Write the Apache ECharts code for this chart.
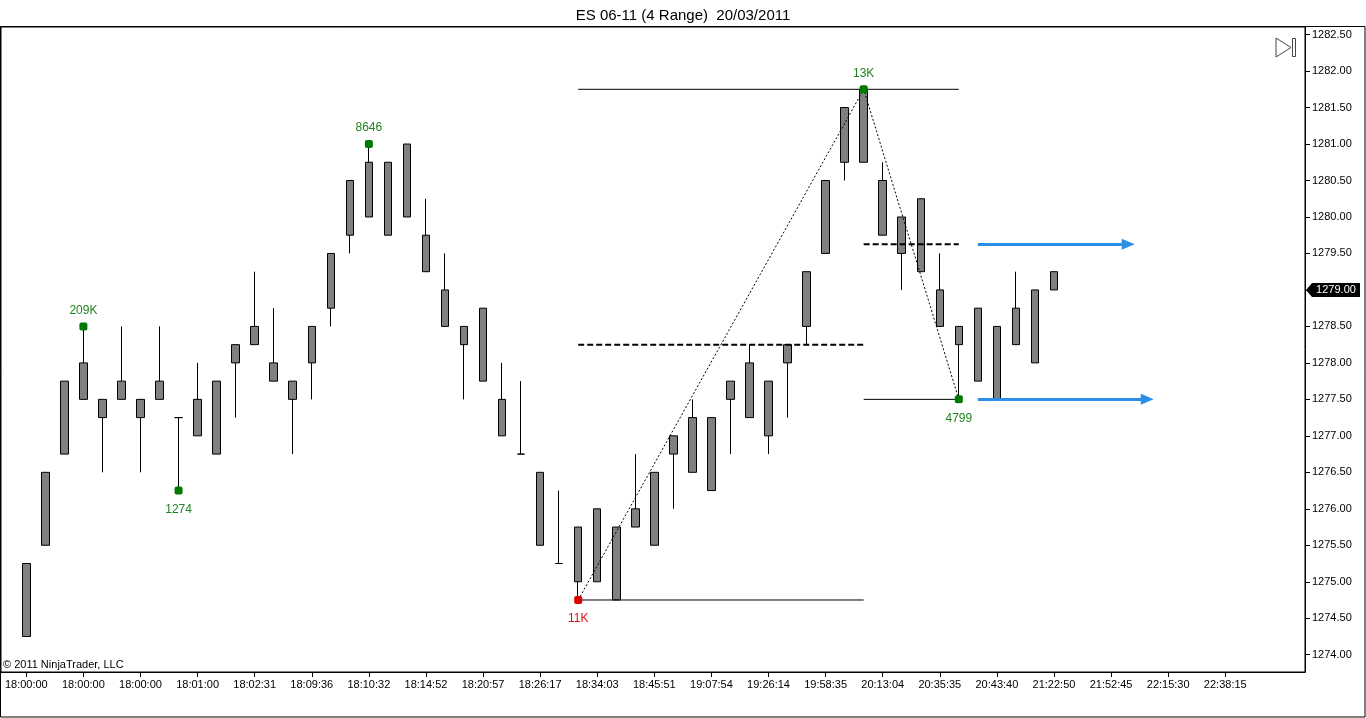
<!DOCTYPE html>
<html>
<head>
<meta charset="utf-8">
<style>
  html, body { margin: 0; padding: 0; background: #fff; }
  #chart { width: 1366px; height: 718px; }
</style>
</head>
<body>
<div id="chart"></div>
<script src="https://cdn.jsdelivr.net/npm/echarts@6/dist/echarts.min.js"></script>
<script>
  // Range bars (4 ticks).
  const opens = [
    1274.25, 1275.5, 1276.75, 1277.5, 1277.5, 1277.5, 1277.5, 1277.5, 1277.25, 1277.0,
    1276.75, 1278.0, 1278.25, 1278.0, 1277.75, 1278.0, 1278.75, 1279.75, 1280.0, 1280.75,
    1280.0, 1279.75, 1279.0, 1278.5, 1278.75, 1277.5, 1276.75, 1276.5, 1275.25, 1275.0,
    1275.0, 1275.75, 1275.75, 1275.5, 1276.75, 1276.5, 1277.25, 1277.5, 1277.25, 1277.75,
    1278.0, 1278.5, 1279.5, 1280.75, 1281.75, 1280.5, 1280.0, 1279.25, 1279.0, 1278.25,
    1278.75, 1277.5, 1278.25, 1278.0, 1279.25
  ];
  const closes = [
    1275.25, 1276.5, 1277.75, 1278.0, 1277.25, 1277.75, 1277.25, 1277.75, 1277.25, 1277.5,
    1277.75, 1278.25, 1278.5, 1277.75, 1277.5, 1278.5, 1279.5, 1280.5, 1280.75, 1279.75,
    1281.0, 1279.25, 1278.5, 1278.25, 1277.75, 1277.0, 1276.75, 1275.5, 1275.25, 1275.75,
    1276.0, 1274.75, 1276.0, 1276.5, 1277.0, 1277.25, 1276.25, 1277.75, 1278.0, 1277.0,
    1278.25, 1279.25, 1280.5, 1281.5, 1280.75, 1279.75, 1279.5, 1280.25, 1278.5, 1278.5,
    1277.75, 1278.5, 1278.75, 1279.0, 1279.0
  ];
  const lows = [
    1274.25, 1275.5, 1276.75, 1277.5, 1276.5, 1277.5, 1276.5, 1277.5, 1276.25, 1277.0,
    1276.75, 1277.25, 1278.25, 1277.75, 1276.75, 1277.5, 1278.5, 1279.5, 1280.0, 1279.75,
    1280.0, 1279.25, 1278.5, 1277.5, 1277.75, 1277.0, 1276.75, 1275.5, 1275.25, 1274.75,
    1275.0, 1274.75, 1275.75, 1275.5, 1276.0, 1276.5, 1276.25, 1276.75, 1277.25, 1276.75,
    1277.25, 1278.25, 1279.5, 1280.5, 1280.75, 1279.75, 1279.0, 1279.25, 1278.5, 1277.5,
    1277.75, 1277.5, 1278.25, 1278.0, 1279.0
  ];
  const highs = [
    1275.25, 1276.5, 1277.75, 1278.5, 1277.5, 1278.5, 1277.5, 1278.5, 1277.25, 1278.0,
    1277.75, 1278.25, 1279.25, 1278.75, 1277.75, 1278.5, 1279.5, 1280.5, 1281.0, 1280.75,
    1281.0, 1280.25, 1279.5, 1278.5, 1278.75, 1278.0, 1277.75, 1276.5, 1276.25, 1275.75,
    1276.0, 1275.75, 1276.75, 1276.5, 1277.0, 1277.5, 1277.25, 1277.75, 1278.25, 1277.75,
    1278.25, 1279.25, 1280.5, 1281.5, 1281.75, 1280.75, 1280.0, 1280.25, 1279.5, 1278.5,
    1278.75, 1278.5, 1279.25, 1279.0, 1279.25
  ];

  // Time labels, one every third bar (bar 0, 3, 6, ...).
  const timeLabels = [
    '18:00:00', '18:00:00', '18:00:00', '18:01:00', '18:02:31', '18:09:36', '18:10:32',
    '18:14:52', '18:20:57', '18:26:17', '18:34:03', '18:45:51', '19:07:54', '19:26:14',
    '19:58:35', '20:13:04', '20:35:35', '20:43:40', '21:22:50', '21:52:45', '22:15:30', '22:38:15'
  ];
  const labelStep = 3;
  const yTicks = [1274, 1274.5, 1275, 1275.5, 1276, 1276.5, 1277, 1277.5, 1278, 1278.5,
                  1279, 1279.5, 1280, 1280.5, 1281, 1281.5, 1282, 1282.5];

  // Swing points with their volume text.
  const swingIdx = [3, 8, 18, 29, 44, 49];
  const swingPrice = [1278.5, 1276.25, 1281.0, 1274.75, 1281.75, 1277.5];
  const swingText = ['209K', '1274', '8646', '11K', '13K', '4799'];
  const swingSide = ['top', 'bottom', 'top', 'bottom', 'top', 'bottom'];
  const swingColor = ['#007a00', '#007a00', '#007a00', '#e00000', '#007a00', '#007a00'];
  const swingTextColor = ['#1e861e', '#1e861e', '#1e861e', '#e01010', '#1e861e', '#1e861e'];

  // Drawn leg: low (bar 29) -> high (bar 44) -> low (bar 49)
  const legIdx = [29, 44, 49];
  const legPrice = [1274.75, 1281.75, 1277.5];
  const midUp = 1278.25;     // half of the up leg
  const midDown = 1279.625;  // half of the down leg
  const arrowStart = 50;
  const arrowEnds = [57.9, 58.9];
  const lastPrice = 1279.0;

  const xMin = -1.33, xMax = 67.19;
  const yMin = 1273.763, yMax = 1282.604;
  const font = 'Liberation Sans, Arial, sans-serif';

  const candles = opens.map((o, i) => [i, o, closes[i], lows[i], highs[i]]);
  const swings = swingIdx.map((x, i) => ({
    value: [x, swingPrice[i]],
    itemStyle: { color: swingColor[i], opacity: 1 },
    label: {
      show: true, formatter: swingText[i], position: swingSide[i],
      distance: swingSide[i] === 'top' ? 6 : 9, color: swingTextColor[i]
    }
  }));

  function hLine(x0, x1, y, style) {
    return {
      type: 'line', data: [[x0, y], [x1, y]], showSymbol: false, symbol: 'none',
      lineStyle: style, silent: true, z: 3
    };
  }
  const solid = { color: '#000', width: 1, type: 'solid' };
  const dashed = { color: '#000', width: 2, type: [6, 3] };
  const blue = '#2b8fe8';

  const option = {
    animation: false,
    backgroundColor: '#fff',
    title: {
      text: 'ES 06-11 (4 Range)  20/03/2011',
      left: 'center', top: 3,
      textStyle: { fontFamily: font, fontSize: 15, fontWeight: 'normal', color: '#000' }
    },
    grid: {
      left: 1, top: 27, width: 1304, height: 645,
      show: true, borderColor: '#000', borderWidth: 1,
      containLabel: false, outerBoundsMode: 'none'
    },
    xAxis: {
      type: 'value', min: xMin, max: xMax,
      splitLine: { show: false },
      axisLine: { onZero: false, lineStyle: { color: '#000' } },
      axisTick: {
        customValues: timeLabels.map((_, i) => i * labelStep),
        length: 5, lineStyle: { color: '#000' }
      },
      axisLabel: {
        customValues: timeLabels.map((_, i) => i * labelStep),
        formatter: v => timeLabels[Math.round(v / labelStep)],
        fontFamily: font, fontSize: 11, color: '#000', margin: 7
      }
    },
    yAxis: {
      type: 'value', position: 'right', min: yMin, max: yMax, scale: true,
      splitLine: { show: false },
      axisLine: { show: true, onZero: false, lineStyle: { color: '#000' } },
      axisTick: { show: true, customValues: yTicks, length: 5, lineStyle: { color: '#000' } },
      axisLabel: {
        customValues: yTicks,
        formatter: v => v.toFixed(2),
        fontFamily: font, fontSize: 11, color: '#000', margin: 7
      }
    },
    series: [
      {
        type: 'candlestick', data: candles, barWidth: 8, z: 2,
        itemStyle: {
          color: '#808080', color0: '#808080',
          borderColor: '#000', borderColor0: '#000', borderWidth: 1
        },
        markLine: {
          silent: true, symbol: ['none', 'triangle'], symbolSize: [11, 13],
          label: { show: false },
          lineStyle: { color: blue, width: 3, type: 'solid' },
          data: [
            [{ coord: [arrowStart, midDown] }, { coord: [arrowEnds[0], midDown] }],
            [{ coord: [arrowStart, legPrice[2]] }, { coord: [arrowEnds[1], legPrice[2]] }]
          ]
        }
      },
      hLine(legIdx[0], legIdx[2], legPrice[1], solid),
      hLine(legIdx[0], legIdx[1], legPrice[0], solid),
      hLine(legIdx[1], legIdx[2], legPrice[2], solid),
      hLine(legIdx[0], legIdx[1], midUp, dashed),
      hLine(legIdx[1], legIdx[2], midDown, dashed),
      {
        type: 'line', data: legIdx.map((x, i) => [x, legPrice[i]]),
        showSymbol: false, symbol: 'none', silent: true, z: 3,
        lineStyle: { color: '#000', width: 1, type: [2, 2] }
      },
      {
        type: 'scatter', data: swings, symbol: 'roundRect', symbolSize: 8, z: 5,
        itemStyle: { opacity: 1 },
        label: { fontFamily: font, fontSize: 12 }
      },
      {
        type: 'scatter', clip: false, z: 6, silent: true,
        data: [[xMax, lastPrice]],
        symbol: 'path://M0,7 L6,0 L54,0 L54,14 L6,14 Z',
        symbolSize: [54, 14], symbolKeepAspect: false, symbolOffset: [28, 0],
        itemStyle: { color: '#000', opacity: 1 },
        label: {
          show: true, position: 'inside', formatter: lastPrice.toFixed(2),
          color: '#fff', fontFamily: font, fontSize: 11, offset: [3, 0]
        }
      }
    ],
    graphic: [
      {
        type: 'rect', silent: true,
        shape: { x: 0.5, y: 26.5, width: 1364.5, height: 690.5 },
        style: { fill: 'none', stroke: '#000', lineWidth: 1 }
      },
      {
        type: 'text', left: 3, top: 659, silent: true,
        style: { text: '\u00a9 2011 NinjaTrader, LLC', fill: '#000', font: '11px ' + font }
      },
      {
        type: 'polygon', silent: true,
        shape: { points: [[1276, 38], [1276, 57], [1291, 47.5]] },
        style: { fill: 'none', stroke: '#444', lineWidth: 1 }
      },
      {
        type: 'rect', silent: true,
        shape: { x: 1292.5, y: 38.5, width: 3, height: 18 },
        style: { fill: 'none', stroke: '#444', lineWidth: 1 }
      }
    ]
  };

  echarts.init(document.getElementById('chart')).setOption(option);
</script>
</body>
</html>
